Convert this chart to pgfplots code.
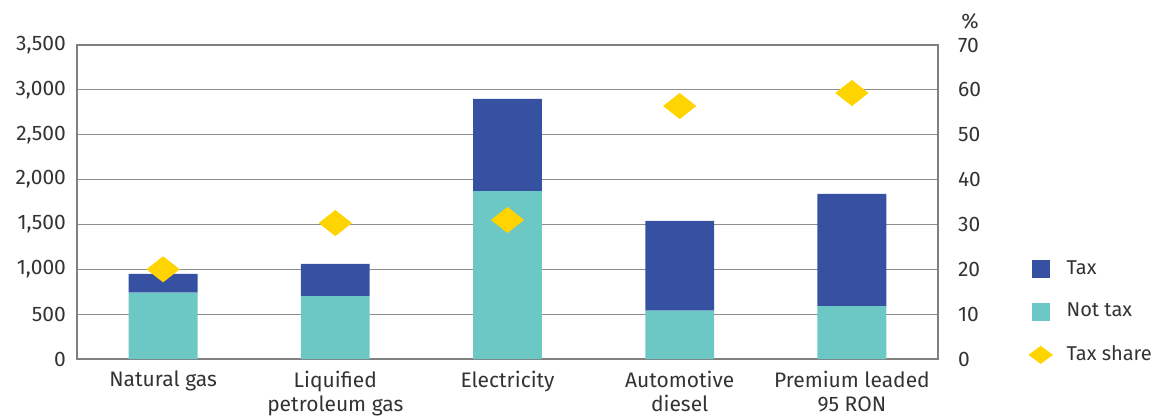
\documentclass[border=0pt]{standalone}
\usepackage{pgfplots}
\pgfplotsset{compat=1.18}
\usepackage{fontspec}
\setmainfont{Fira Sans}
\definecolor{taxblue}{HTML}{3651A2}
\definecolor{nottax}{HTML}{6BC8C4}
\definecolor{gold}{HTML}{FFD400}
\definecolor{gridgray}{HTML}{8E8E8E}
\definecolor{axisgray}{HTML}{808080}
\definecolor{textgray}{HTML}{333333}
\begin{document}
\begin{tikzpicture}
\pgfplotsset{
  common/.style={
    scale only axis, width=430.5pt, height=157pt,
    xmin=-0.5, xmax=4.5,
    major tick length=0pt,
    tick label style={font=\fontsize{10.5}{12.5}\selectfont, text=textgray},
    /pgf/number format/assume math mode=true,
    /pgf/number format/1000 sep={,},
  }
}
\begin{axis}[common, name=main,
  ymin=0, ymax=3500,
  ybar stacked, bar width=0.4,
  xtick={0,1,2,3,4},
  xticklabels={Natural gas, Liquified\\petroleum gas, Electricity, Automotive\\diesel, Premium leaded\\95 RON},
  xticklabel style={align=center, anchor=north, yshift=-2.5pt, font=\fontsize{10.5}{11.8}\selectfont},
  ytick={0,500,...,3500},
  yticklabel style={xshift=-2pt},
  xtick pos=bottom, ytick pos=left,
  ymajorgrids, grid style={gridgray, line width=0.5pt},
  axis line style={axisgray, line width=1.1pt},
]
\addplot[fill=nottax, draw=none] coordinates {(0,740) (1,700) (2,1870) (3,540) (4,590)};
\addplot[fill=taxblue, draw=none] coordinates {(0,210) (1,360) (2,1030) (3,1000) (4,1250)};
\end{axis}
\begin{axis}[common, clip=false,
  ymin=0, ymax=70,
  axis y line*=right, axis x line=none,
  axis line style={draw=none},
  ytick={0,10,...,70},
  yticklabel style={xshift=6.5pt},
  legend style={at={(1.098,0.341)}, anchor=north west, draw=none, fill=none,
    font=\fontsize{10}{12}\selectfont, text=textgray, row sep=9pt,
    /tikz/every even column/.append style={column sep=0pt}},
  legend cell align=left,
]
\addlegendimage{legend image code/.code={\fill[taxblue] (0pt,-4.25pt) rectangle (8.5pt,4.25pt);}}
\addlegendentry{\hspace{5pt}Tax}
\addlegendimage{legend image code/.code={\fill[nottax] (0pt,-4.25pt) rectangle (8.5pt,4.25pt);}}
\addlegendentry{\hspace{5pt}Not tax}
\addplot[gold, only marks, mark=diamond*, mark size=6.25pt, mark options={xscale=1.7, fill=gold, draw=gold},
  legend image code/.code={\fill[gold] (-1.5pt,0pt) -- (4.25pt,4.25pt) -- (10pt,0pt) -- (4.25pt,-4.25pt) -- cycle;}]
  coordinates {(0,20) (1,30.3) (2,31) (3,56.4) (4,59.3)};
\addlegendentry{\hspace{5pt}Tax share}
\node[anchor=west, font=\fontsize{10.5}{12.5}\selectfont, text=textgray, inner sep=0pt] at ([xshift=11.5pt,yshift=12pt]rel axis cs:1,1) {\%};
\end{axis}
\pgfresetboundingbox
\path[use as bounding box] (main.south west) ++(-38.5pt,-30pt) rectangle ++(577pt,209.5pt);
\end{tikzpicture}
\end{document}
